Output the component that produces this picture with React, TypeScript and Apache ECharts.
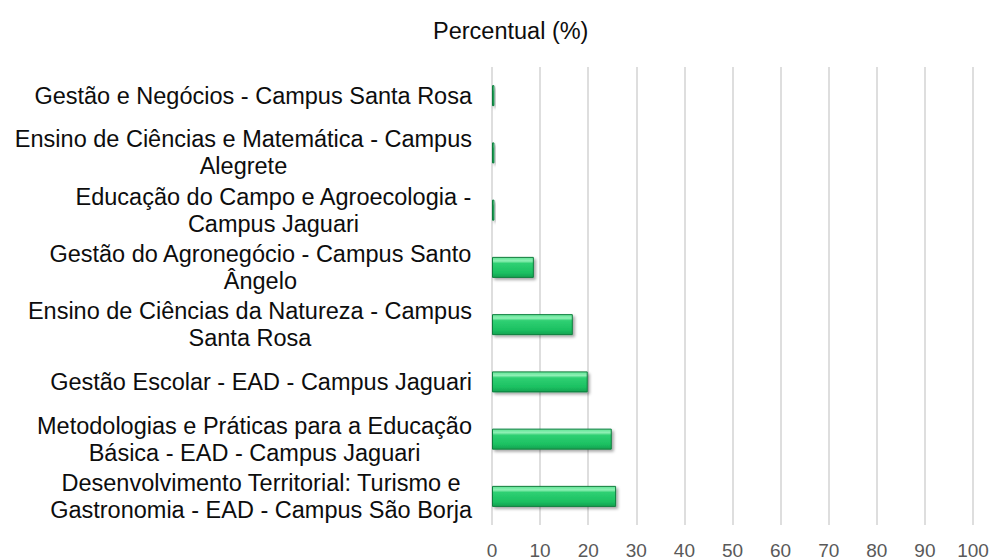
import React, { useEffect, useRef } from "react";
import * as echarts from "echarts";

const categories: string[] = [
  "Gestão e Negócios - Campus Santa Rosa",
  "Ensino de Ciências e Matemática - Campus\nAlegrete",
  "Educação do Campo e Agroecologia -\nCampus Jaguari",
  "Gestão do Agronegócio - Campus Santo\nÂngelo",
  "Ensino de Ciências da Natureza - Campus\nSanta Rosa",
  "Gestão Escolar - EAD - Campus Jaguari",
  "Metodologias e Práticas para a Educação\nBásica - EAD - Campus Jaguari",
  "Desenvolvimento Territorial: Turismo e\nGastronomia - EAD - Campus São Borja",
];

const values: number[] = [0.5, 0.5, 0.5, 8.7, 16.8, 19.9, 24.9, 25.8];

const titleText = "Percentual (%)";

export default function App() {
  const ref = useRef<HTMLDivElement>(null);

  useEffect(() => {
    if (!ref.current) return;
    const chart = echarts.init(ref.current, undefined, { renderer: "svg" });
    const font = "'Liberation Sans', Arial, sans-serif";
    chart.setOption({
      animation: false,
      backgroundColor: "#ffffff",
      title: {
        text: titleText,
        left: 428,
        top: 14,
        textStyle: {
          fontFamily: font,
          fontSize: 23.5,
          fontWeight: "normal",
          color: "#0d0d0d",
        },
      },
      grid: {
        left: 492,
        right: 21,
        top: 67,
        bottom: 33,
        containLabel: false,
      },
      xAxis: {
        type: "value",
        min: 0,
        max: 100,
        interval: 10,
        axisLine: { show: false },
        axisTick: { show: false },
        splitLine: { show: true, lineStyle: { color: "#d6d6d6", width: 1.6 } },
        axisLabel: {
          margin: 16,
          fontFamily: font,
          fontSize: 19,
          color: "#595959",
        },
      },
      yAxis: {
        type: "category",
        inverse: true,
        data: categories,
        axisLine: { show: false },
        axisTick: { show: false },
        splitLine: { show: false },
        axisLabel: {
          margin: 20,
          align: "right",
          fontFamily: font,
          fontSize: 23.5,
          color: "#0d0d0d",
          lineHeight: 27,
          formatter: (v: string) =>
            v
              .split("\n")
              .map((s) => "{c|" + s + "}")
              .join("\n"),
          rich: {
            c: {
              align: "center",
              fontFamily: font,
              fontSize: 23.5,
              color: "#0d0d0d",
              lineHeight: 27,
            },
          },
        },
      },
      series: [
        {
          type: "bar",
          data: values,
          barWidth: 21,
          itemStyle: {
            color: {
              type: "linear",
              x: 0,
              y: 0,
              x2: 0,
              y2: 1,
              colorStops: [
                { offset: 0, color: "#5fe495" },
                { offset: 0.18, color: "#8ff0b5" },
                { offset: 0.3, color: "#2fd073" },
                { offset: 0.75, color: "#1cc162" },
                { offset: 1, color: "#14a351" },
              ],
            },
            borderColor: "#0f7e3e",
            borderWidth: 1,
            shadowColor: "rgba(0,0,0,0.35)",
            shadowBlur: 3,
            shadowOffsetX: 2,
            shadowOffsetY: 2,
          },
        },
      ],
    });
    return () => chart.dispose();
  }, []);

  return (
    <div
      ref={ref}
      style={{ position: "fixed", left: 0, top: 0, width: 994, height: 560 }}
    />
  );
}
